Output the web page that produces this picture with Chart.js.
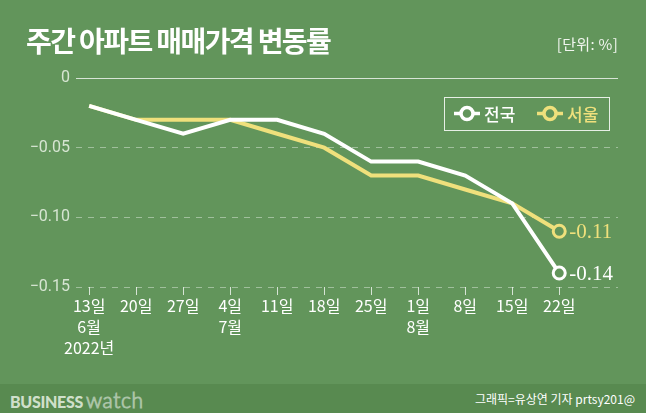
<!DOCTYPE html>
<html>
<head>
<meta charset="utf-8">
<script src="https://cdn.jsdelivr.net/npm/chart.js@4/dist/chart.umd.min.js"></script>
<style>
  html, body { margin: 0; padding: 0; }
  body { width: 646px; height: 413px; position: relative; overflow: hidden; background: #62955b; font-family: 'Noto Sans CJK KR', sans-serif; }
  #chart { position: absolute; left: 0; top: 0; }
  .title { position: absolute; left: 26px; top: 20px; color: #fff; font-size: 28px; font-weight: 700; letter-spacing: -1.6px; white-space: nowrap; }
  .unit { position: absolute; right: 28px; top: 33px; color: #f2f6f0; font-size: 15px; letter-spacing: 0.3px; white-space: nowrap; }
  .footer { position: absolute; left: 0; top: 384px; width: 646px; height: 29px; background: #588a50; }
  .logo { position: absolute; left: 10px; top: 3px; white-space: nowrap; }
  .logo b { font-family: 'Lato', sans-serif; font-weight: 900; font-size: 16px; color: rgba(225,236,221,0.9); letter-spacing: -0.3px; }
  .logo span { font-family: 'Lato', sans-serif; font-weight: 300; font-size: 21px; color: transparent; -webkit-text-stroke: 1px rgba(255,255,255,0.5); letter-spacing: 0.6px; margin-left: 3px; }
  .credit { position: absolute; right: 11px; top: 6px; color: #fff; font-size: 12px; white-space: nowrap; }
</style>
</head>
<body>
<canvas id="chart" width="646" height="413"></canvas>
<div class="title">주간 아파트 매매가격 변동률</div>
<div class="unit">[단위: %]</div>
<div class="footer">
  <div class="logo"><b>BUSINESS</b><span>watch</span></div>
  <div class="credit">그래픽=유상연 기자 prtsy201@</div>
</div>
<script>
// weekly labels (multi-line)
const weeks = [
  ['13일', '6월', '2022년'],
  ['20일'], ['27일'],
  ['4일', '7월'],
  ['11일'], ['18일'], ['25일'],
  ['1일', '8월'],
  ['8일'], ['15일'], ['22일']
];
const nationwide = [-0.02, -0.03, -0.04, -0.03, -0.03, -0.04, -0.06, -0.06, -0.07, -0.09, -0.14];
const seoul = [-0.02, -0.03, -0.03, -0.03, -0.04, -0.05, -0.07, -0.07, -0.08, -0.09, -0.11];
const seriesNames = ['전국', '서울'];
const endLabels = ['-0.14', '-0.11'];
const yTicks = [0, -0.05, -0.10, -0.15];
const yTickLabels = ['0', '\u22120.05', '\u22120.10', '\u22120.15'];

const BG = '#62955b';
const WHITE = '#ffffff';
const YELLOW = '#efe07c';
const last = weeks.length - 1;

const toPoints = arr => arr.map((v, i) => ({ x: i, y: v }));

// legend + end value labels
const overlay = {
  id: 'overlay',
  afterDatasetsDraw(chart) {
    const ctx = chart.ctx;
    const area = chart.chartArea;
    ctx.save();

    // end labels
    ctx.font = '21px "Liberation Serif", "DejaVu Serif", serif';
    ctx.textBaseline = 'middle';
    ctx.textAlign = 'left';
    chart.data.datasets.forEach((ds, i) => {
      const pt = chart.getDatasetMeta(i).data[last];
      ctx.fillStyle = ds.borderColor;
      ctx.fillText(endLabels[i], pt.x + 10, pt.y + 1);
    });

    // legend box
    const bx = area.right - 174, by = area.top + 19, bw = 165, bh = 33;
    ctx.strokeStyle = 'rgba(255,255,255,0.85)';
    ctx.lineWidth = 1;
    ctx.strokeRect(bx + 0.5, by + 0.5, bw, bh);
    ctx.font = '500 17px "Noto Sans CJK KR", sans-serif';
    let x = bx + 10;
    const cy = by + bh / 2;
    chart.data.datasets.forEach((ds, i) => {
      ctx.strokeStyle = ds.borderColor;
      ctx.lineWidth = 3.5;
      ctx.beginPath();
      ctx.moveTo(x, cy);
      ctx.lineTo(x + 26, cy);
      ctx.stroke();
      ctx.beginPath();
      ctx.arc(x + 13, cy, 6, 0, Math.PI * 2);
      ctx.fillStyle = BG;
      ctx.fill();
      ctx.stroke();
      ctx.fillStyle = ds.borderColor;
      ctx.fillText(seriesNames[i], x + 30, cy + 1);
      x += 83;
    });
    ctx.restore();
  }
};

new Chart(document.getElementById('chart'), {
  type: 'line',
  data: {
    datasets: [
      {
        label: seriesNames[0],
        data: toPoints(nationwide),
        borderColor: WHITE,
        borderWidth: 4,
        pointRadius: c => c.dataIndex === last ? 6 : 0,
        pointBorderWidth: 3,
        pointBackgroundColor: BG,
        pointBorderColor: WHITE,
        order: 0
      },
      {
        label: seriesNames[1],
        data: toPoints(seoul),
        borderColor: YELLOW,
        borderWidth: 4,
        pointRadius: c => c.dataIndex === last ? 6 : 0,
        pointBorderWidth: 3,
        pointBackgroundColor: BG,
        pointBorderColor: YELLOW,
        order: 1
      }
    ]
  },
  options: {
    responsive: false,
    animation: false,
    layout: { padding: { left: 0, top: 78, right: 28, bottom: 29 } },
    plugins: { legend: { display: false }, tooltip: { enabled: false } },
    scales: {
      x: {
        type: 'linear',
        min: -0.28,
        max: 11.25,
        afterBuildTicks: s => { s.ticks = weeks.map((w, i) => ({ value: i })); },
        afterFit: s => { s.height = 97; },
        border: { display: false },
        grid: {
          drawOnChartArea: false,
          drawTicks: true,
          tickLength: 8,
          tickColor: 'rgba(255,255,255,0.75)',
          tickWidth: 1
        },
        ticks: {
          color: '#ffffff',
          padding: 1,
          maxRotation: 0,
          autoSkip: false,
          font: { family: '"Noto Sans CJK KR", sans-serif', size: 16, lineHeight: 1.3 },
          callback: v => weeks[v]
        }
      },
      y: {
        min: -0.15,
        max: 0,
        afterBuildTicks: s => { s.ticks = yTicks.map(v => ({ value: v })); },
        afterFit: s => { s.width = 76; },
        border: {
          display: false,
          dash: c => (c.tick && c.tick.value === 0) ? [] : [6, 6]
        },
        grid: {
          drawTicks: false,
          color: c => c.tick.value === 0 ? 'rgba(255,255,255,0.75)' : 'rgba(255,255,255,0.4)',
          lineWidth: 1
        },
        ticks: {
          color: 'rgba(235,243,232,0.85)',
          padding: 6,
          font: { family: 'Roboto, sans-serif', size: 16 },
          callback: v => yTickLabels[yTicks.findIndex(t => Math.abs(t - v) < 1e-9)]
        }
      }
    }
  },
  plugins: [overlay]
});
</script>
</body>
</html>
